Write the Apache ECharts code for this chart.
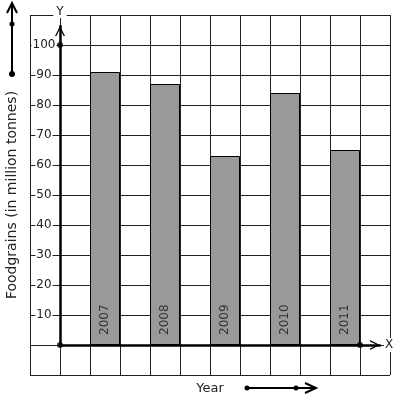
<!DOCTYPE html>
<html>
<head>
<meta charset="utf-8">
<script src="https://cdn.jsdelivr.net/npm/echarts@6/dist/echarts.min.js"></script>
<style>
  html, body { margin: 0; padding: 0; background: #fff; }
  #chart { width: 397px; height: 401px; }
</style>
</head>
<body>
<div id="chart"></div>
<script>
const years = ['2007', '2008', '2009', '2010', '2011'];
const foodgrains = [91, 87, 63, 84, 65];
const yTicks = [10, 20, 30, 40, 50, 60, 70, 80, 90, 100];

// 12 grid cells across; a bar sits in every other cell starting from cell 2
const cells = [];
const barData = [];
for (let i = 0; i < 12; i++) {
  const k = (i - 2) / 2;
  if (i >= 2 && i % 2 === 0 && k < years.length) {
    cells.push(years[k]);
    barData.push(foodgrains[k]);
  } else {
    cells.push('_' + i);
    barData.push(null);
  }
}

const ink = '#222';
const font = 'DejaVu Sans';
const chevron = 'path://M0,10 L5,0 L10,10 L8.6,10 L5,2.8 L1.4,10 Z';

const chart = echarts.init(document.getElementById('chart'));
chart.setOption({
  animation: false,
  textStyle: { fontFamily: font },
  grid: [
    { left: 30, top: 15, width: 360, height: 360, outerBoundsMode: 'none', containLabel: false },
    { left: 60, top: 26, width: 320, height: 319, outerBoundsMode: 'none', containLabel: false }
  ],
  xAxis: [{
    gridIndex: 0,
    type: 'category',
    data: cells,
    axisLine: { show: false },
    axisTick: { show: false },
    axisLabel: { show: false },
    splitLine: { show: true, interval: 0, lineStyle: { color: ink, width: 1 } },
    name: 'Year',
    nameLocation: 'middle',
    nameGap: 7,
    nameTextStyle: { color: ink, fontSize: 13, fontFamily: font }
  }, {
    gridIndex: 1,
    type: 'value',
    min: 0,
    max: 320 / 30,
    z: 10,
    axisLine: { show: true, lineStyle: { color: '#000', width: 2.5 }, symbol: ['none', chevron], symbolSize: [13, 10], symbolOffset: [0, -5] },
    axisTick: { show: false },
    axisLabel: { show: false },
    splitLine: { show: false },
    name: 'X',
    nameLocation: 'end',
    nameGap: 4,
    nameTextStyle: { color: ink, fontSize: 12, fontFamily: font, backgroundColor: '#fff', padding: [1, 1] }
  }],
  yAxis: [{
    gridIndex: 0,
    type: 'value',
    min: -10,
    max: 110,
    interval: 10,
    axisLine: { show: false },
    axisTick: { show: false },
    axisLabel: {
      inside: true,
      margin: 14,
      align: 'center',
      color: ink,
      fontSize: 12,
      fontFamily: font,
      backgroundColor: '#fff',
      padding: [0, 1],
      formatter: v => yTicks.indexOf(v) >= 0 ? String(v) : ''
    },
    splitLine: { show: true, lineStyle: { color: ink, width: 1 } },
    name: 'Foodgrains (in million tonnes)',
    nameLocation: 'middle',
    nameRotate: 90,
    nameGap: 11,
    nameTextStyle: { color: ink, fontSize: 14, fontFamily: font }
  }, {
    gridIndex: 1,
    type: 'value',
    min: 0,
    max: 319 / 3,
    z: 10,
    axisLine: { show: true, lineStyle: { color: '#000', width: 2.5 }, symbol: ['none', chevron], symbolSize: [13, 10], symbolOffset: [0, -5] },
    axisTick: { show: false },
    axisLabel: { show: false },
    splitLine: { show: false },
    name: 'Y',
    nameLocation: 'end',
    nameGap: 8,
    nameTextStyle: { color: ink, fontSize: 12, fontFamily: font, backgroundColor: '#fff', padding: [0, 3] }
  }],
  series: [{
    type: 'bar',
    xAxisIndex: 0,
    yAxisIndex: 0,
    data: barData,
    barWidth: '100%',
    itemStyle: { color: '#999999', borderColor: '#000', borderWidth: 1 },
    label: {
      show: true,
      position: 'insideBottom',
      rotate: 90,
      align: 'left',
      verticalAlign: 'middle',
      distance: 10,
      color: '#333',
      fontSize: 12,
      fontFamily: font,
      formatter: p => p.name
    }
  }, {
    type: 'scatter',
    xAxisIndex: 1,
    yAxisIndex: 1,
    z: 11,
    symbolSize: 6,
    itemStyle: { color: '#000' },
    data: [[0, 0], [0, 100], [10, 0]]
  }],
  graphic: [
    // arrow beside the y-axis title
    { type: 'line', shape: { x1: 12, y1: 5, x2: 12, y2: 74 }, style: { stroke: '#000', lineWidth: 2 } },
    { type: 'polyline', shape: { points: [[7, 13], [12, 3], [17, 13]] }, style: { stroke: '#000', lineWidth: 2, fill: null } },
    { type: 'circle', shape: { cx: 12, cy: 24, r: 2.5 }, style: { fill: '#000' } },
    { type: 'circle', shape: { cx: 12, cy: 74, r: 3 }, style: { fill: '#000' } },
    // arrow beside the x-axis title
    { type: 'line', shape: { x1: 247, y1: 388, x2: 315, y2: 388 }, style: { stroke: '#000', lineWidth: 2 } },
    { type: 'polyline', shape: { points: [[305, 383], [316, 388], [305, 393]] }, style: { stroke: '#000', lineWidth: 2, fill: null } },
    { type: 'circle', shape: { cx: 247, cy: 388, r: 2.5 }, style: { fill: '#000' } },
    { type: 'circle', shape: { cx: 296, cy: 388, r: 2.5 }, style: { fill: '#000' } }
  ]
});
</script>
</body>
</html>
